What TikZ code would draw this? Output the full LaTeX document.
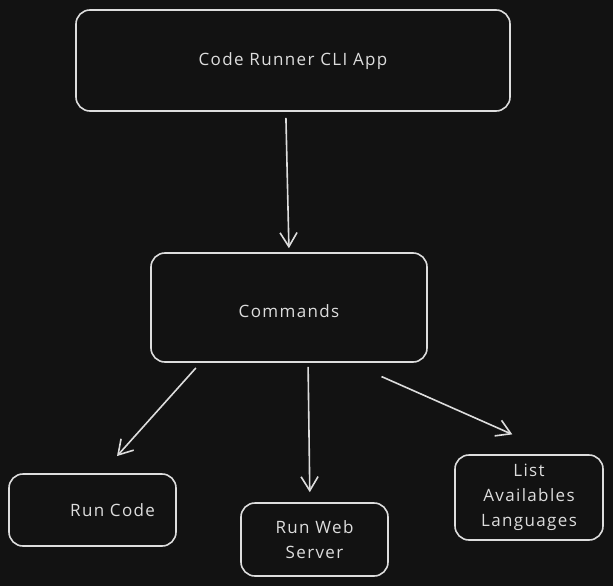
\documentclass[tikz,border=0pt]{standalone}
\usepackage{fontspec}
\setmainfont{Open Sans}[LetterSpace=8]
\usetikzlibrary{arrows.meta}
\definecolor{bgdark}{HTML}{121212}
\definecolor{chalk}{HTML}{DDDDDD}
\tikzset{
  box/.style={draw=chalk, line width=1.6pt, rounded corners=14pt, text=chalk,
    font=\fontsize{17}{25}\selectfont, align=center, inner sep=0pt},
  flow/.style={draw=chalk, line width=1.6pt, -{Straight Barb[length=14pt,width=17pt]}},
}
\begin{document}
\begin{tikzpicture}[x=1pt,y=-1pt]
\fill[bgdark] (0,0) rectangle (613,586);
% boxes
\node[box, minimum width=434pt, minimum height=101pt] (app) at (293,60.5) {\raisebox{-5pt}[0pt][0pt]{Code Runner CLI App}};
\node[box, minimum width=276pt, minimum height=109pt] (cmd) at (289,307.5) {\raisebox{-9.5pt}[0pt][0pt]{Commands}};
\node[box, minimum height=72pt, inner xsep=21pt, text width=125pt, align=right] (code) at (92.5,510) {Run Code};
\node[box, minimum width=147pt, minimum height=73pt] (web) at (314.5,539.5) {Run Web\\Server};
\node[box, minimum width=148pt, minimum height=85pt] (list) at (529,497.5) {List\\Availables\\Languages};
% arrows
\draw[flow, shorten <=6pt, shorten >=4pt] (app.262) -- (cmd.90);
\draw[flow, shorten <=7pt, shorten >=23pt] (cmd.212) -- (code.76);
\draw[flow, shorten <=4pt, shorten >=10pt] (cmd.289) -- (web.97);
\draw[flow, shorten <=34pt, shorten >=49pt] (cmd.318) -- (list.57);
\end{tikzpicture}
\end{document}
